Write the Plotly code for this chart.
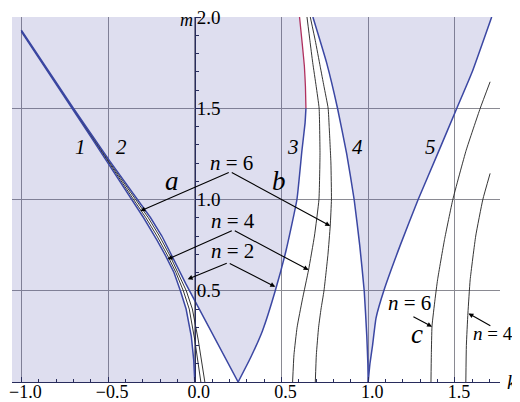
import plotly.graph_objects as go

# ---------------- data (k, m) ----------------
# blue boundary "1" (ends at origin)
curveA_k = [0.0, -0.006, -0.02, -0.05, -0.083, -0.12, -0.167, -0.218, -0.295, -0.365, -0.508, -0.60, -0.708, -0.85, -1.0]
curveA_m = [0.0, 0.12, 0.25, 0.40, 0.50, 0.60, 0.69, 0.778, 0.90, 1.0, 1.21, 1.345, 1.50, 1.705, 1.92]
# blue boundary "2" (left arm of V at k=0.25)
curveB_k = [0.25, 0.125, 0.0, -0.053, -0.13, -0.19, -0.255, -0.33, -0.49, -0.70, -1.0]
curveB_m = [0.0, 0.222, 0.445, 0.54, 0.687, 0.80, 0.90, 1.0, 1.21, 1.50, 1.928]
# black n=6 / n=4 curves of family a
a6_k = [0.035, 0.02, 0.0, -0.032, -0.066, -0.109, -0.155, -0.218, -0.282, -0.353, -0.502, -0.705, -1.0]
a6_m = [0.0, 0.10, 0.23, 0.40, 0.50, 0.60, 0.69, 0.80, 0.90, 1.0, 1.21, 1.50, 1.922]
a4_k = [0.058, 0.042, 0.02, -0.014, -0.049, -0.098, -0.142, -0.204, -0.268, -0.341, -0.496, -0.703, -1.0]
a4_m = [0.0, 0.10, 0.23, 0.40, 0.50, 0.60, 0.69, 0.80, 0.90, 1.0, 1.21, 1.50, 1.925]
# curve "3": blue lower part, red upper part
curve3_k = [0.25, 0.32, 0.39, 0.464, 0.527, 0.589, 0.618, 0.636, 0.641]
curve3_m = [0.0, 0.13, 0.28, 0.50, 0.723, 1.0, 1.27, 1.42, 1.50]
curve3r_k = [0.641, 0.638, 0.632, 0.62, 0.604]
curve3r_m = [1.50, 1.62, 1.73, 1.85, 2.0]
# black n=4 / n=6 curves of family b
b4_k = [0.564, 0.572, 0.59, 0.62, 0.656, 0.69, 0.716, 0.722, 0.717, 0.70, 0.68, 0.664, 0.647]
b4_m = [0.0, 0.15, 0.30, 0.45, 0.614, 0.80, 1.0, 1.25, 1.50, 1.62, 1.75, 1.87, 2.0]
b6_k = [0.695, 0.701, 0.714, 0.728, 0.745, 0.768, 0.781, 0.788, 0.785, 0.775, 0.769, 0.745, 0.723, 0.695, 0.666]
b6_m = [0.0, 0.15, 0.30, 0.40, 0.50, 0.70, 0.855, 1.0, 1.2, 1.4, 1.5, 1.62, 1.73, 1.87, 2.0]
# curve "4" and "5" (V at k=1)
curve4_k = [1.0, 0.998, 0.992, 0.977, 0.951, 0.919, 0.876, 0.823, 0.76, 0.681]
curve4_m = [0.0, 0.10, 0.25, 0.50, 0.75, 1.0, 1.25, 1.50, 1.75, 2.0]
curve5_k = [1.0, 1.01, 1.025, 1.045, 1.09, 1.185, 1.288, 1.40, 1.511, 1.60, 1.712]
curve5_m = [0.0, 0.10, 0.20, 0.35, 0.50, 0.75, 1.0, 1.25, 1.50, 1.70, 2.0]
# black curves of family c
c6_k = [1.362, 1.364, 1.368, 1.385, 1.40, 1.44, 1.488, 1.565, 1.646, 1.703]
c6_m = [0.0, 0.15, 0.307, 0.45, 0.56, 0.78, 1.0, 1.27, 1.50, 1.645]
c4_k = [1.563, 1.566, 1.575, 1.588, 1.62, 1.661, 1.703]
c4_m = [0.0, 0.2, 0.377, 0.56, 0.8, 1.0, 1.143]

x_ticks = [-1.0, -0.5, 0.0, 0.5, 1.0, 1.5]
y_ticks = [0.5, 1.0, 1.5, 2.0]

# ---------------- styling ----------------
XMIN, XMAX = -1.054, 1.76
YMIN, YMAX = 0.0, 2.0
FONT = "Liberation Serif, Times New Roman, DejaVu Serif, serif"
BLUE = "#3b47a3"
RED = "#b0305e"
NAVY = "#282c5c"
GRID = "#8a8a92"
FILL = "rgba(80,80,170,0.19)"

fig = go.Figure()

# lavender region left / middle
fx = [XMIN, XMIN] + curve3r_k[::-1] + curve3_k[::-1] + curveB_k + curveA_k[::-1] + [XMIN]
fy = [YMIN, YMAX] + curve3r_m[::-1] + curve3_m[::-1] + curveB_m + curveA_m[::-1] + [YMIN]
fig.add_trace(go.Scatter(x=fx, y=fy, fill="toself", fillcolor=FILL, mode="none",
                         hoverinfo="skip", showlegend=False))
# lavender V at k = 1
vx = curve4_k[::-1] + curve5_k
vy = curve4_m[::-1] + curve5_m
fig.add_trace(go.Scatter(x=vx, y=vy, fill="toself", fillcolor=FILL, mode="none",
                         hoverinfo="skip", showlegend=False))

def line(xs, ys, color, width, smooth=True):
    shp = dict(shape="spline", smoothing=0.4) if smooth else dict(shape="linear")
    fig.add_trace(go.Scatter(x=xs, y=ys, mode="lines",
                             line=dict(color=color, width=width, **shp),
                             hoverinfo="skip", showlegend=False))

line(a6_k, a6_m, "#1e1e1e", 0.9, smooth=False)
line(a4_k, a4_m, "#1e1e1e", 0.9, smooth=False)
for xs, ys in [(b4_k, b4_m), (b6_k, b6_m), (c6_k, c6_m), (c4_k, c4_m)]:
    line(xs, ys, "#1e1e1e", 0.9)
line(curveA_k, curveA_m, BLUE, 1.5, smooth=False)
line(curveB_k, curveB_m, BLUE, 1.5, smooth=False)
line(curve3_k, curve3_m, BLUE, 1.5)
line(curve3r_k, curve3r_m, RED, 1.3)
line(curve4_k, curve4_m, BLUE, 1.5)
line(curve5_k, curve5_m, BLUE, 1.5)

def px(k):
    return (k - XMIN) / (XMAX - XMIN)

def py(m):
    return (m - YMIN) / (YMAX - YMIN)

ann = []
def txt(x, y, s, size, xanchor="center", yanchor="middle"):
    ann.append(dict(x=px(x), y=py(y), xref="paper", yref="paper", text=s, showarrow=False,
                    xanchor=xanchor, yanchor=yanchor,
                    font=dict(family=FONT, size=size, color="black")))

def arrow(x, y, ax, ay):
    ann.append(dict(x=x, y=y, ax=ax, ay=ay, xref="x", yref="y", axref="x", ayref="y",
                    text="", showarrow=True, arrowhead=2, arrowsize=0.9, arrowwidth=1.1,
                    arrowcolor="black"))

# region / curve labels
txt(-0.66, 1.289, "<i>1</i>", 21)
txt(-0.42, 1.289, "<i>2</i>", 21)
txt(0.564, 1.289, "<i>3</i>", 21)
txt(0.938, 1.289, "<i>4</i>", 21)
txt(1.357, 1.289, "<i>5</i>", 21)
txt(-0.131, 1.10, "<i>a</i>", 27)
txt(0.483, 1.10, "<i>b</i>", 27)
txt(1.284, 0.262, "<i>c</i>", 27)
NB = "\u00a0"
def nlab(v):
    return "<i>n</i>" + NB + "=" + NB + str(v)
txt(0.214, 1.20, nlab(6), 21)
txt(0.219, 0.882, nlab(4), 21)
txt(0.216, 0.718, nlab(2), 21)
txt(1.236, 0.435, nlab(6), 21)
txt(1.845, 0.265, nlab(4), 19, xanchor="right")

# chevrons
arrow(-0.314, 0.937, 0.2046, 1.152)
arrow(0.781, 0.855, 0.2046, 1.152)
arrow(-0.157, 0.672, 0.222, 0.833)
arrow(0.656, 0.614, 0.222, 0.833)
arrow(-0.041, 0.563, 0.193, 0.654)
arrow(0.464, 0.522, 0.193, 0.654)
arrow(1.368, 0.303, 1.252, 0.362)
arrow(1.578, 0.376, 1.713, 0.303)

# axis labels (m sits just inside the top of the figure)
ann.append(dict(x=px(-0.05), y=1 + 9 / 365, xref="paper", yref="paper", text="<i>m</i>",
                showarrow=False, xanchor="center", yanchor="top",
                font=dict(family=FONT, size=18, color="black")))
txt(1.83, 0.0, "<i>k</i>", 20)

# the page body adds an 8 px offset: figure sized to fit the 520x402 window
fig.update_layout(
    width=512, height=394,
    margin=dict(l=4, r=20, t=9, b=20),
    plot_bgcolor="white", paper_bgcolor="white",
    hovermode=False,
    annotations=ann,
    xaxis=dict(range=[XMIN, XMAX], tickmode="array", tickvals=x_ticks,
               ticktext=[("\u2212" if v < 0 else "") + f"{abs(v):.1f}" for v in x_ticks],
               ticks="inside", ticklen=5, tickwidth=1, tickcolor=NAVY,
               showline=True, linecolor=NAVY, linewidth=1.3, automargin=False,
               ticklabeloverflow="allow", ticklabelstandoff=-7, ticklabelshift=4,
               showgrid=True, gridcolor=GRID, gridwidth=1, zeroline=False,
               minor=dict(tickmode="linear", tick0=0, dtick=0.1, ticks="inside", ticklen=3,
                          tickcolor=NAVY, showgrid=False),
               tickfont=dict(family=FONT, size=18, color="black")),
    yaxis=dict(range=[YMIN, YMAX], tickmode="array", tickvals=y_ticks,
               ticktext=[f"{v:.1f}" for v in y_ticks],
               anchor="free", position=px(0.0), side="right", automargin=False,
               ticklabeloverflow="allow", ticklabelstandoff=-8,
               ticks="outside", ticklen=5, tickwidth=1, tickcolor=NAVY,
               showline=True, linecolor=NAVY, linewidth=1.3,
               showgrid=True, gridcolor=GRID, gridwidth=1, zeroline=False,
               minor=dict(tickmode="linear", tick0=0, dtick=0.1, ticks="outside", ticklen=3,
                          tickcolor=NAVY, showgrid=False),
               tickfont=dict(family=FONT, size=19, color="black")),
)

fig.write_html("out.html")
